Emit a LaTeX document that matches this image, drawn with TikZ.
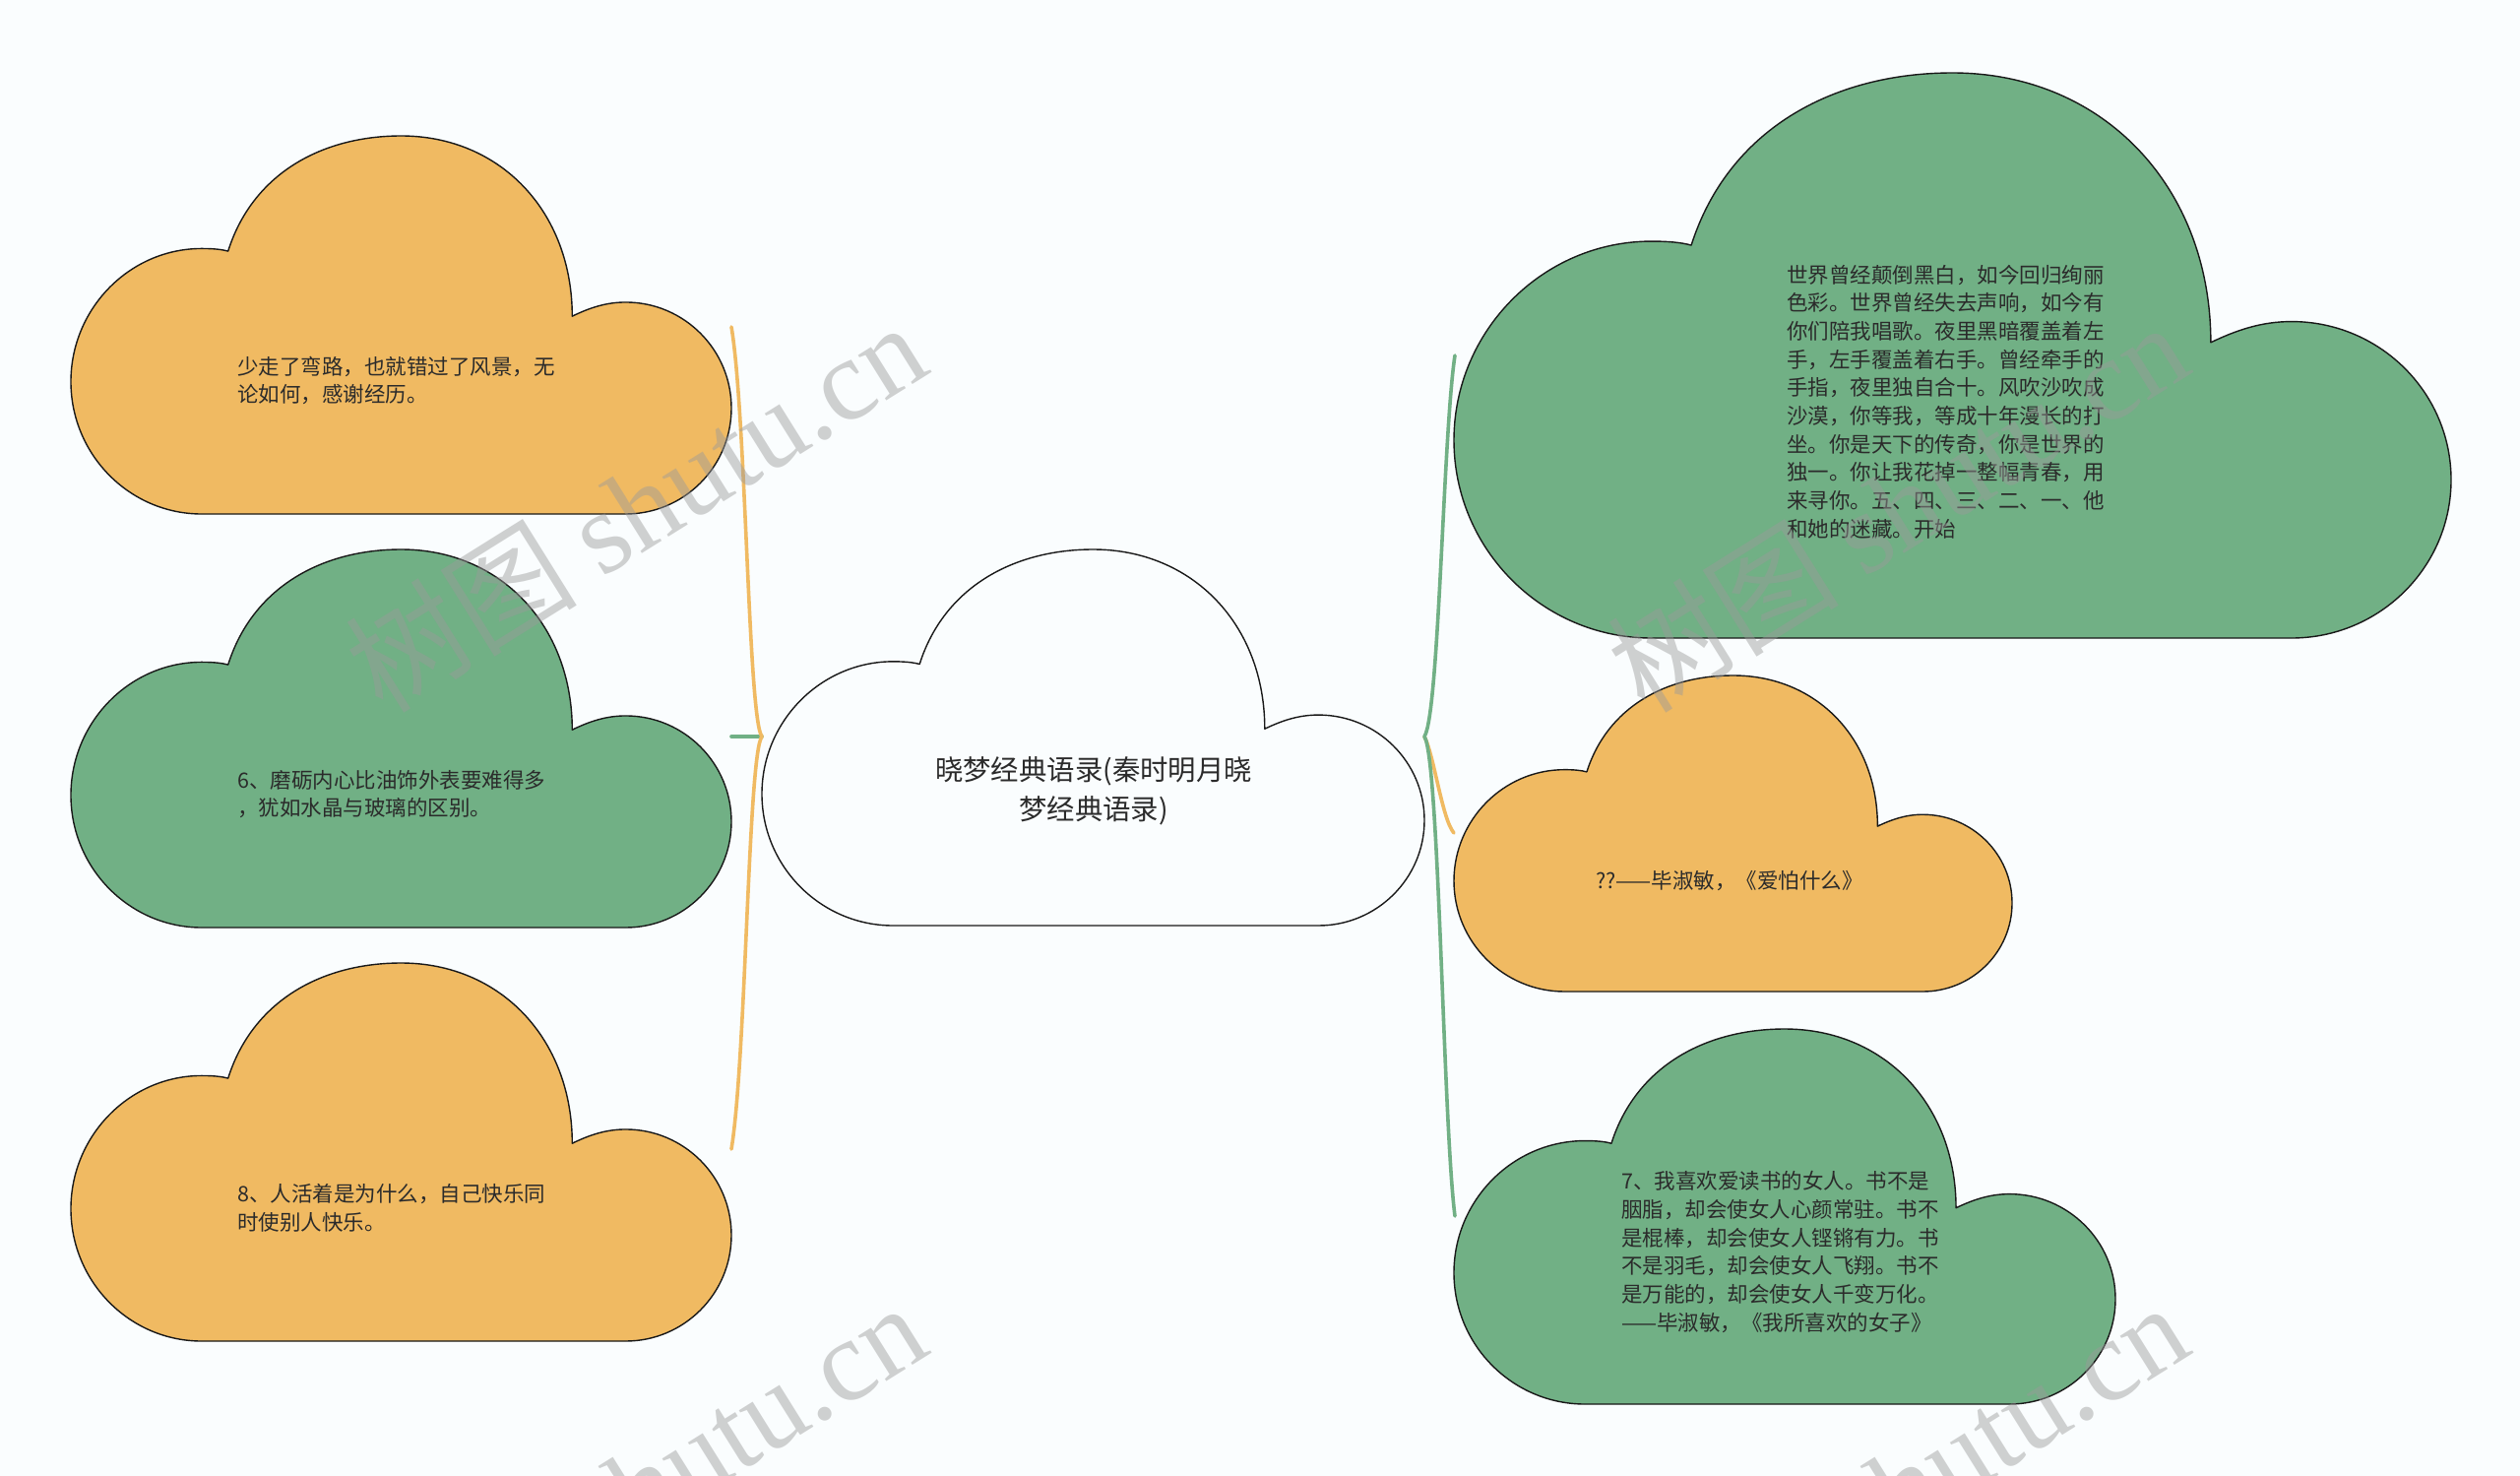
\documentclass[tikz,border=0pt]{standalone}
\usepackage{fontspec}
\setmainfont{Noto Sans CJK SC}
\newfontfamily\cjk{Noto Sans CJK SC}
\newfontfamily\wmlatin{Liberation Serif}
\definecolor{bgcol}{HTML}{FAFDFE}
\definecolor{orfill}{HTML}{F0BA62}
\definecolor{grfill}{HTML}{71B085}
\definecolor{txtcol}{HTML}{2B2B2B}
\definecolor{wmcol}{HTML}{9A9A9A}
\tikzset{
  cloudline/.style={draw=black!90, line width=1.4pt, line join=round},
  bodytext/.style={inner sep=0pt, anchor=west, align=left, text=txtcol,
     font=\cjk\fontsize{21.5}{28.7}\selectfont},
  roottext/.style={inner sep=0pt, align=center, text=txtcol,
     font=\cjk\fontsize{28.4}{40}\selectfont},
  orangeline/.style={draw=orfill, line width=3.6pt, line cap=round},
  greenline/.style={draw=grfill, line width=3.6pt, line cap=round},
  watermark/.style={text=wmcol, opacity=0.45, rotate=32, inner sep=0pt}
}
% cloud: x0, y0, width, height, fill colour
\newcommand\mycloud[5]{%
  \begin{scope}[shift={(#1,#2)}, xscale=#3, yscale=#4]
    \path[cloudline, fill=#5]
      (0.198,1) .. controls (0.089,1) and (0,0.843) .. (0,0.65)
      .. controls (0,0.457) and (0.089,0.298) .. (0.198,0.298)
      .. controls (0.215,0.298) and (0.228,0.300) .. (0.238,0.305)
      .. controls (0.275,0.10) and (0.38,0) .. (0.5,0)
      .. controls (0.65,0) and (0.759,0.2) .. (0.759,0.477)
      .. controls (0.785,0.455) and (0.81,0.44) .. (0.84,0.44)
      .. controls (0.928,0.44) and (1,0.565) .. (1,0.72)
      .. controls (1,0.875) and (0.928,1) .. (0.84,1)
      -- cycle;
  \end{scope}}
\begin{document}
\begin{tikzpicture}[x=1pt,y=-1pt]
\useasboundingbox (0,0) rectangle (2560,1499);
\fill[bgcol] (0,0) rectangle (2560,1499);

% clouds
\mycloud{72}{138}{671}{384}{orfill}
\mycloud{72}{558}{671}{384}{grfill}
\mycloud{72}{978}{671}{384}{orfill}
\mycloud{774}{558}{673}{382}{bgcol}
\mycloud{1477}{74}{1013}{574}{grfill}
\mycloud{1477}{686}{567}{321}{orfill}
\mycloud{1477}{1045}{672}{381}{grfill}

% connector end points
\coordinate (Lhub) at (774,748);
\coordinate (L1) at (743,332);
\coordinate (L2) at (743,748);
\coordinate (L3) at (743,1167);
\coordinate (Rhub) at (1447,748);
\coordinate (R1) at (1478,361);
\coordinate (R2) at (1477,846);
\coordinate (R3) at (1478,1235);

% connectors
\draw[greenline] (Lhub) -- (L2);
\draw[orangeline] (Lhub) .. controls (760,730) and (758,420) .. (L1);
\draw[orangeline] (Lhub) .. controls (760,766) and (758,1076) .. (L3);
\draw[orangeline] (Rhub) .. controls (1457,768) and (1465,832) .. (R2);
\draw[greenline] (Rhub) .. controls (1462,725) and (1466,440) .. (R1);
\draw[greenline] (Rhub) .. controls (1462,771) and (1466,1140) .. (R3);

% texts
\node[roottext] (root) at (1111,803) {晓梦经典语录(秦时明月晓\\梦经典语录)};
\node[bodytext] (t1) at (241,386.5) {少走了弯路，也就错过了风景，无\\论如何，感谢经历。};
\node[bodytext] (t2) at (241,806.5) {6、磨砺内心比油饰外表要难得多\\，犹如水晶与玻璃的区别。};
\node[bodytext] (t3) at (241,1226.5) {8、人活着是为什么，自己快乐同\\时使别人快乐。};
\node[bodytext] (t4) at (1815,408) {世界曾经颠倒黑白，如今回归绚丽\\色彩。世界曾经失去声响，如今有\\你们陪我唱歌。夜里黑暗覆盖着左\\手，左手覆盖着右手。曾经牵手的\\手指，夜里独自合十。风吹沙吹成\\沙漠，你等我，等成十年漫长的打\\坐。你是天下的传奇，你是世界的\\独一。你让我花掉一整幅青春，用\\来寻你。五、四、三、二、一、他\\和她的迷藏。开始};
\node[bodytext] (t5) at (1621,895) {??——毕淑敏，《爱怕什么》};
\node[bodytext] (t6) at (1647,1271.5) {7、我喜欢爱读书的女人。书不是\\胭脂，却会使女人心颜常驻。书不\\是棍棒，却会使女人铿锵有力。书\\不是羽毛，却会使女人飞翔。书不\\是万能的，却会使女人千变万化。\\——毕淑敏，《我所喜欢的女子》};

% watermarks
\node[watermark] (w1) at (645,514) {\cjk\fontsize{118}{118}\selectfont 树图 \wmlatin shutu.cn};
\node[watermark] (w2) at (1927,514) {\cjk\fontsize{118}{118}\selectfont 树图 \wmlatin shutu.cn};
\node[watermark] (w3) at (645,1510) {\cjk\fontsize{118}{118}\selectfont 树图 \wmlatin shutu.cn};
\node[watermark] (w4) at (1927,1510) {\cjk\fontsize{118}{118}\selectfont 树图 \wmlatin shutu.cn};
\end{tikzpicture}
\end{document}
